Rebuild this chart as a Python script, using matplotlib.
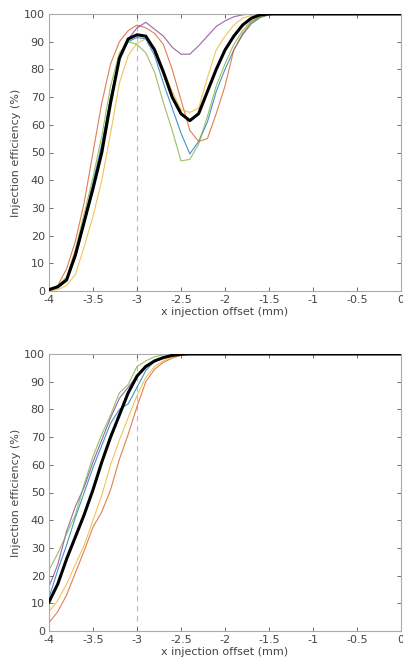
import numpy as np
import matplotlib
matplotlib.use("Agg")
import matplotlib.pyplot as plt

x = [-4.0, -3.9, -3.8, -3.7, -3.6, -3.5, -3.4, -3.3, -3.2, -3.1, -3.0, -2.9, -2.8,
     -2.7, -2.6, -2.5, -2.4, -2.3, -2.2, -2.1, -2.0, -1.9, -1.8, -1.7, -1.6, -1.5,
     -1.4, -1.3, -1.2, -1.1, -1.0, -0.9, -0.8, -0.7, -0.6, -0.5, -0.4, -0.3, -0.2,
     -0.1, 0.0]

def pad(vals):
    return list(vals) + [100.0] * (len(x) - len(vals))

# top panel
top_blue = pad([0.5, 1.5, 4, 13, 26, 39, 53, 70, 84, 90, 91.5, 91, 85, 75, 66, 57,
                49.5, 54, 61, 72, 80, 87, 92.5, 96.5, 98.7, 99.7])
top_orange = pad([0.5, 2, 8, 18, 32, 50, 68, 82, 90, 94, 96, 95, 93, 89, 80, 69,
                  58, 54, 55, 64, 74, 87, 93, 97, 99, 99.7])
top_yellow = pad([0, 0.5, 2, 6, 16, 27, 40, 57, 75, 85, 89.5, 91, 88, 80, 72, 65.5,
                  64.5, 66, 77, 87, 92, 96, 98.5, 99.5])
top_purple = pad([0.5, 1.5, 4, 12, 24, 37, 52, 70, 84, 91, 95, 97, 94.5, 92, 88,
                  85.5, 85.5, 88.5, 92, 95.5, 97.5, 99, 99.7])
top_green = pad([0.5, 2, 5, 15, 28, 41, 56, 74, 86, 90, 89, 86, 79, 68, 58, 47,
                 47.5, 53, 63, 74, 82, 89, 94, 97.5, 99])
top_mean = pad([0.5, 1.5, 4, 13, 25, 37, 50, 68, 84, 91, 92.5, 92, 87, 79, 70, 64,
                61.5, 64, 72, 80, 87, 92, 96, 98.5, 99.7])

# bottom panel
bot_blue = pad([12, 22, 31, 41, 50, 59, 67, 75, 80, 82, 88, 94, 97.5, 99, 99.7])
bot_orange = pad([3, 7, 13, 21, 29, 37.5, 43, 51, 62, 71, 81, 90, 94.5, 97, 98.5,
                  99.5])
bot_yellow = pad([7, 11, 17, 24, 31, 40, 49, 60, 69, 77, 85, 91.5, 95.5, 97.5, 99,
                  99.6])
bot_purple = pad([16, 24, 36, 45, 52, 61, 69, 77, 84, 88, 92, 95, 97.5, 99, 99.7])
bot_green = pad([22, 28, 35, 42, 53, 63, 71, 78, 86, 89, 95.5, 97.5, 99, 99.7])
bot_mean = pad([10.5, 17, 26, 34, 42, 51, 61, 70, 78, 86, 92, 95.5, 97.5, 98.7,
                99.5, 99.9])

xticks = [-4, -3.5, -3, -2.5, -2, -1.5, -1, -0.5, 0]
xticklabels = ["-4", "-3.5", "-3", "-2.5", "-2", "-1.5", "-1", "-0.5", "0"]
yticks = [0, 10, 20, 30, 40, 50, 60, 70, 80, 90, 100]

colors = ["#0072BD", "#D95319", "#EDB120", "#7E2F8E", "#77AC30"]
txt = "#444444"

fig = plt.figure(figsize=(4.03, 6.67), dpi=100)
ax1 = fig.add_axes([49 / 403, (667 - 291) / 667, 352 / 403, 277 / 667])
ax2 = fig.add_axes([49 / 403, (667 - 631) / 667, 352 / 403, 277 / 667])

panels = [
    (ax1, [top_blue, top_orange, top_yellow, top_purple, top_green], top_mean),
    (ax2, [bot_blue, bot_orange, bot_yellow, bot_purple, bot_green], bot_mean),
]

for ax, series, mean in panels:
    ax.axvline(-3, color="#bbbbbb", lw=0.8, ls=(0, (5, 4)), zorder=1)
    for s, c in zip(series, colors):
        ax.plot(x, s, color=c, lw=0.8, alpha=0.75, zorder=2)
    ax.plot(x, mean, color="black", lw=2.2, zorder=3)
    ax.set_xlim(-4, 0)
    ax.set_ylim(0, 100)
    ax.set_xticks(xticks)
    ax.set_xticklabels(xticklabels)
    ax.set_yticks(yticks)
    ax.tick_params(direction="in", length=3, width=0.6, colors="#555555",
                   labelcolor=txt, labelsize=8, top=True, right=True, pad=3)
    for sp in ax.spines.values():
        sp.set_color("#aaaaaa")
        sp.set_linewidth(0.8)
    ax.set_xlabel("x injection offset (mm)", fontsize=8, color=txt, labelpad=1)
    ax.set_ylabel("Injection efficiency (%)", fontsize=8, color=txt, labelpad=2)

fig.savefig("out.png", dpi=100)
